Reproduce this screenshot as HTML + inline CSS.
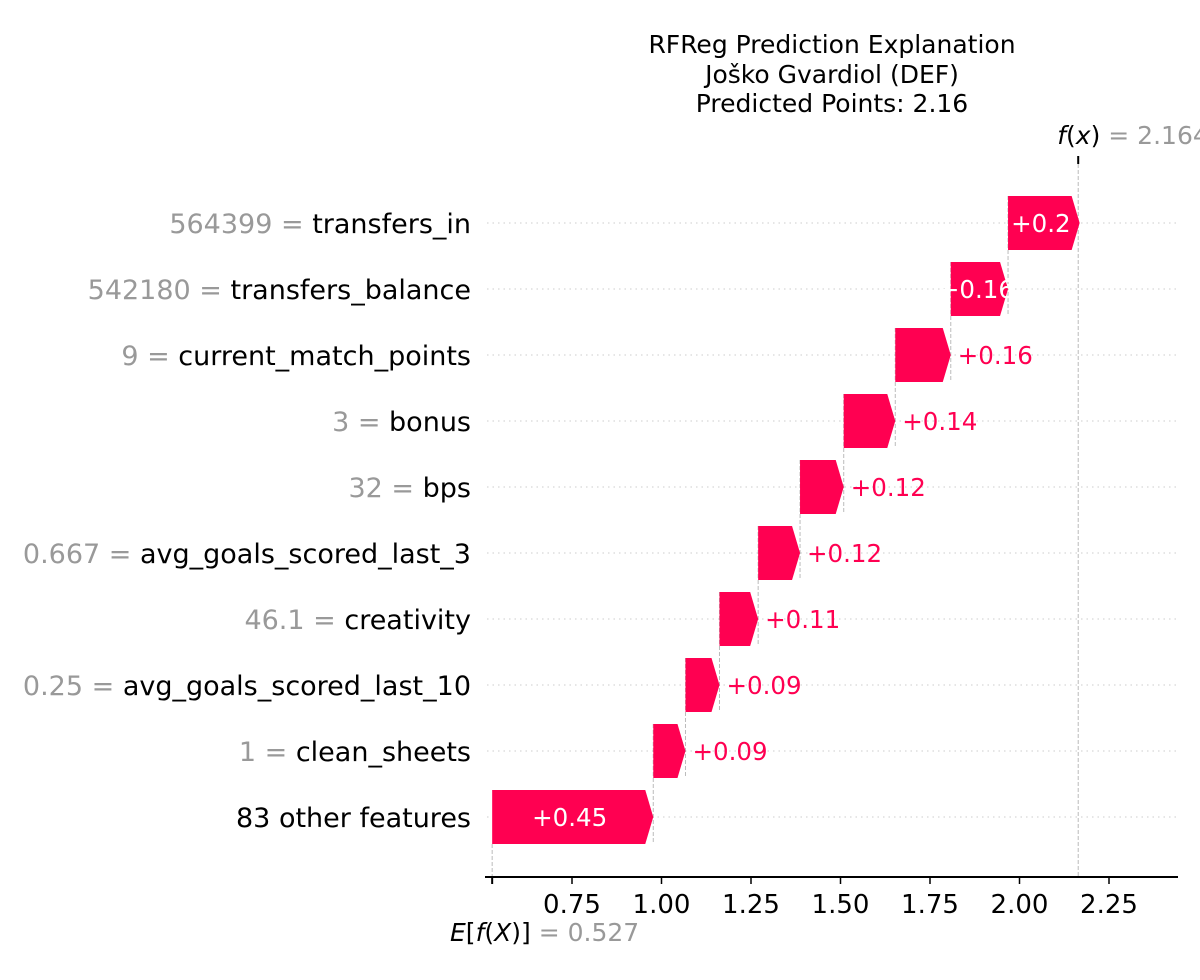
<!DOCTYPE html>
<html><head><meta charset="utf-8"><style>
body{margin:0;background:#fff;width:1200px;height:975px;overflow:hidden}
svg{font-family:"DejaVu Sans","Liberation Sans",sans-serif}
</style></head><body>
<svg id="chart" width="1200" height="975" viewBox="0 0 1200 975" xmlns="http://www.w3.org/2000/svg">
<g font-size="25" text-anchor="middle" fill="#000">
<text x="832" y="53">RFReg Prediction Explanation</text>
<text x="832" y="83">Joško Gvardiol (DEF)</text>
<text x="832" y="112">Predicted Points: 2.16</text>
</g>
<g id="grid"></g><g id="conn"></g><g id="bars"></g><g id="labels"></g><g id="axis"></g>
</svg>
<script>
const featureValues=["564399","542180","9","3","32","0.667","46.1","0.25","1",""];
const featureNames=["transfers_in","transfers_balance","current_match_points","bonus","bps","avg_goals_scored_last_3","creativity","avg_goals_scored_last_10","clean_sheets","83 other features"];
const contributions=[0.2,0.16,0.155,0.144,0.122,0.117,0.108,0.095,0.09,0.45];
const valueLabels=["+0.2","+0.16","+0.16","+0.14","+0.12","+0.12","+0.11","+0.09","+0.09","+0.45"];
const baseValue=0.527;
const fxValue=2.164;
const tickValues=[0.75,1.00,1.25,1.50,1.75,2.00,2.25];
const tickLabels=["0.75","1.00","1.25","1.50","1.75","2.00","2.25"];

const NS="http://www.w3.org/2000/svg";
const X=v=>572+(v-0.75)*358;
const Y=i=>223+i*66;
const H=54;
function mk(tag,attrs,parent,text){const e=document.createElementNS(NS,tag);for(const k in attrs)e.setAttribute(k,attrs[k]);if(text!==undefined)e.textContent=text;parent.appendChild(e);return e;}
const grid=document.getElementById('grid'),conn=document.getElementById('conn'),bars=document.getElementById('bars'),labels=document.getElementById('labels'),axis=document.getElementById('axis');
const n=contributions.length;
const starts=new Array(n);let cum=baseValue;
for(let i=n-1;i>=0;i--){starts[i]=cum;cum+=contributions[i];}
for(let i=0;i<n;i++){
  const yc=Y(i);
  const gl=mk('line',{x1:487,x2:1176,y1:yc,y2:yc,stroke:'#ccc','stroke-width':1,'stroke-dasharray':'1.5 4'},grid);
  
  
  const x0=X(starts[i]),x1=X(starts[i]+contributions[i]);
  const tip=Math.min(8,(x1-x0));
  const p=mk('path',{d:`M${x0},${yc-H/2}L${x1-tip},${yc-H/2}L${x1},${yc}L${x1-tip},${yc+H/2}L${x0},${yc+H/2}Z`,fill:'#ff0051'},bars);
  
  
  const w=x1-x0;
  let t;
  if(w>=56.5){t=mk('text',{x:(x0+x1-tip)/2+1,y:yc+9,'font-size':24.5,'text-anchor':'middle',fill:'#fff'},bars,valueLabels[i]);}
  else{t=mk('text',{x:x1+7,y:yc+9,'font-size':24.5,fill:'#ff0051'},bars,valueLabels[i]);}
  
  
  if(i<n-1){const c=mk('line',{x1:x0,x2:x0,y1:yc-H/2,y2:Y(i+1)+H/2,stroke:'#bbb','stroke-width':1,'stroke-dasharray':'4 2'},conn);
    
    }
  const lt=mk('text',{x:471,y:yc+10,'font-size':27,'text-anchor':'end'},labels);
  
  
  if(featureValues[i]!==""){mk('tspan',{fill:'#999'},lt,featureValues[i]+' = ');}
  mk('tspan',{fill:'#000'},lt,featureNames[i]);
}
const eL=mk('line',{x1:X(baseValue),x2:X(baseValue),y1:Y(n-1)+H/2,y2:877,stroke:'#bbb','stroke-dasharray':'4 2'},conn);


const fL=mk('line',{x1:X(fxValue),x2:X(fxValue),y1:158,y2:877,stroke:'#bbb','stroke-dasharray':'4 2'},conn);


const fT=mk('line',{x1:X(fxValue),x2:X(fxValue),y1:156,y2:164,stroke:'#000','stroke-width':2},axis);


const fx=mk('text',{x:X(fxValue)-21,y:144,'font-size':25},axis);


mk('tspan',{'font-style':'italic'},fx,'f');mk('tspan',{},fx,'(');mk('tspan',{'font-style':'italic'},fx,'x');mk('tspan',{},fx,')');mk('tspan',{fill:'#999'},fx,' = '+fxValue.toFixed(3));
const ax=mk('line',{x1:485,x2:1178,y1:877,y2:877,stroke:'#000','stroke-width':2},axis);


const et=mk('line',{x1:X(baseValue),x2:X(baseValue),y1:877,y2:884,stroke:'#000','stroke-width':2},axis);


tickValues.forEach((v,k)=>{
  const tk=mk('line',{x1:X(v),x2:X(v),y1:877,y2:884,stroke:'#000','stroke-width':1.5},axis);
  
  
  const tl=mk('text',{x:X(v),y:913,'font-size':26,'text-anchor':'middle'},axis,tickLabels[k]);
  
  
});
const el=mk('text',{x:450,y:941,'font-size':25},axis);


mk('tspan',{'font-style':'italic'},el,'E');mk('tspan',{},el,'[');mk('tspan',{'font-style':'italic'},el,'f');mk('tspan',{},el,'(');mk('tspan',{'font-style':'italic'},el,'X');mk('tspan',{},el,')]');mk('tspan',{fill:'#999'},el,' = '+baseValue.toFixed(3));
</script>
</body></html>
